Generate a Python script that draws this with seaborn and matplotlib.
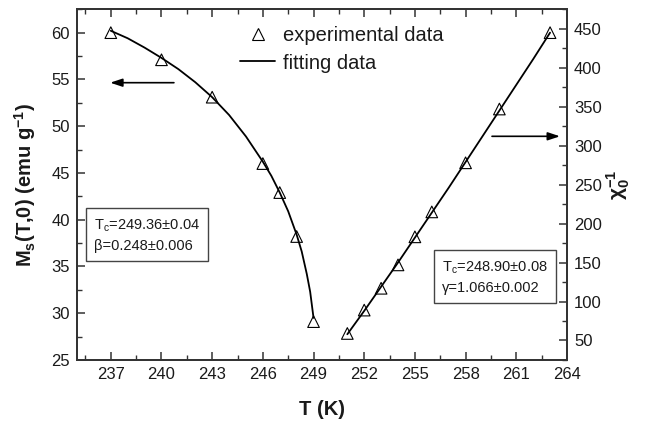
import matplotlib
matplotlib.use("Agg")
import matplotlib.pyplot as plt
import seaborn as sns
from matplotlib.ticker import MultipleLocator
from matplotlib.lines import Line2D

# ---- data ----
T_ms = [237, 240, 243, 246, 247, 248, 249]
Ms_exp = [60.0, 57.1, 53.1, 46.0, 42.9, 38.2, 29.1]

T_ms_fit = [237, 238, 239, 240, 241, 242, 243, 244, 245, 246, 246.5, 247,
            247.5, 248, 248.3, 248.6, 248.8, 249.0]
Ms_fit = [60.2, 59.4, 58.4, 57.3, 56.1, 54.7, 53.1, 51.2, 48.9, 46.2, 44.7,
          42.9, 40.9, 38.4, 36.6, 34.2, 32.3, 29.5]

T_chi = [251, 252, 253, 254, 255, 256, 258, 260, 263]
chi_exp = [59, 89, 117, 147, 183, 215, 278, 347, 445]

T_chi_fit = [251, 252, 253, 254, 255, 256, 257, 258, 259, 260, 261, 262, 263]
chi_fit = [58, 88, 119, 150, 182, 214, 246, 279, 312, 345, 378, 411, 445]

x_ticks = [237, 240, 243, 246, 249, 252, 255, 258, 261, 264]
left_ticks = [25, 30, 35, 40, 45, 50, 55, 60]
right_ticks = [50, 100, 150, 200, 250, 300, 350, 400, 450]

box_left = "T$_\\mathregular{c}$=249.36±0.04\nβ=0.248±0.006"
box_right = "T$_\\mathregular{c}$=248.90±0.08\nγ=1.066±0.002"

# ---- style ----
sns.set_theme(style="ticks")
plt.rcParams["font.family"] = ["Liberation Sans", "DejaVu Sans"]
plt.rcParams["mathtext.fontset"] = "custom"
plt.rcParams["mathtext.rm"] = "Liberation Sans"
plt.rcParams["mathtext.it"] = "Liberation Sans:italic"
plt.rcParams["mathtext.bf"] = "Liberation Sans:bold"

SPINE = "#333333"
TXT = "#1a1a1a"

fig = plt.figure(figsize=(6.45, 4.22), dpi=100)
ax = fig.add_axes([0.1194, 0.147, 0.7596, 0.831])
ax2 = ax.twinx()

# left series
sns.lineplot(x=T_ms_fit, y=Ms_fit, ax=ax, color="black", lw=1.3, sort=False)
sns.scatterplot(x=T_ms, y=Ms_exp, ax=ax, marker="^", s=70,
                facecolor="none", edgecolor="black", linewidth=0.8, zorder=3)
# right series
sns.lineplot(x=T_chi_fit, y=chi_fit, ax=ax2, color="black", lw=1.3, sort=False)
sns.scatterplot(x=T_chi, y=chi_exp, ax=ax2, marker="^", s=70,
                facecolor="none", edgecolor="black", linewidth=0.8, zorder=3)

ax.set_xlim(235, 264)
ax.set_ylim(25, 62.5)
ax2.set_ylim(25, 475)
ax.set_xticks(x_ticks)
ax.set_yticks(left_ticks)
ax2.set_yticks(right_ticks)
ax.xaxis.set_minor_locator(MultipleLocator(1.5))
ax.yaxis.set_minor_locator(MultipleLocator(2.5))
ax2.yaxis.set_minor_locator(MultipleLocator(25))

for a in (ax, ax2):
    for s in a.spines.values():
        s.set_color(SPINE)
        s.set_linewidth(1.3)
        s.set_visible(True)
ax.tick_params(axis="x", which="both", direction="in", top=True, bottom=True,
               colors=SPINE, labelcolor=TXT, labelsize=12, pad=5)
ax.tick_params(axis="x", which="major", length=6, width=1.1)
ax.tick_params(axis="x", which="minor", length=3.5, width=1.0)
ax.tick_params(axis="y", which="both", direction="in", left=True, right=False,
               colors=SPINE, labelcolor=TXT, labelsize=12, pad=5)
ax.tick_params(axis="y", which="major", length=6, width=1.1)
ax.tick_params(axis="y", which="minor", length=3.5, width=1.0)
ax2.tick_params(axis="y", which="both", direction="in", right=True, left=False,
                colors=SPINE, labelcolor=TXT, labelsize=12, pad=5)
ax2.tick_params(axis="y", which="major", length=6, width=1.1)
ax2.tick_params(axis="y", which="minor", length=3.5, width=1.0)

ax.set_xlabel("T (K)", fontsize=14.5, fontweight="bold", color=TXT, labelpad=13)
ax.set_ylabel("M$_\\mathbf{s}$(T,0) (emu g$^\\mathbf{-1}$)", fontsize=14.5,
              fontweight="bold", color=TXT, labelpad=10)
ax2.set_ylabel("χ$_\\mathbf{0}^\\mathbf{-1}$", fontsize=15, fontweight="bold",
               color=TXT, rotation=90, labelpad=2)

# arrows
ax.annotate("", xy=(236.8, 54.65), xytext=(240.9, 54.65),
            arrowprops=dict(arrowstyle="-|>,head_length=0.6,head_width=0.2",
                            color="black", lw=1.2, mutation_scale=12))
ax2.annotate("", xy=(263.75, 312), xytext=(259.4, 312),
             arrowprops=dict(arrowstyle="-|>,head_length=0.6,head_width=0.2",
                             color="black", lw=1.2, mutation_scale=12))

# parameter boxes
bbox = dict(boxstyle="square,pad=0.55", fc="white", ec="#444444", lw=1.0)
ax.text(0.0347, 0.305, box_left, transform=ax.transAxes, ha="left", va="bottom",
        fontsize=10.5, color=TXT, linespacing=1.5, bbox=bbox, zorder=5)
ax.text(0.745, 0.1845, box_right, transform=ax.transAxes, ha="left", va="bottom",
        fontsize=10.5, color=TXT, linespacing=1.5, bbox=bbox, zorder=5)

# legend
handles = [Line2D([], [], marker="^", ls="", mfc="none", mec="black", ms=8, mew=0.8),
           Line2D([], [], color="black", lw=1.3)]
ax2.legend(handles, ["experimental data", "fitting data"], loc="upper left",
           bbox_to_anchor=(0.333, 0.951), frameon=False, fontsize=14.5,
           handlelength=1.75, handletextpad=0.4, labelspacing=0.4,
           borderpad=0, borderaxespad=0, labelcolor=TXT)

fig.savefig("out.png", dpi=100)
